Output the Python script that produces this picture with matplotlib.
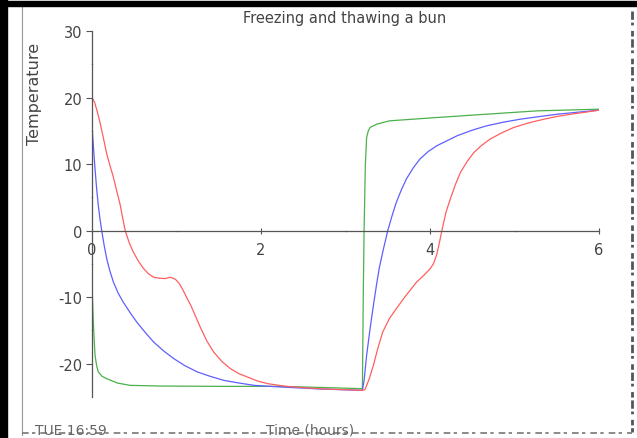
import matplotlib
matplotlib.use("Agg")
import matplotlib.pyplot as plt
from matplotlib.lines import Line2D
from matplotlib.patches import Rectangle

plt.rcParams["font.family"] = ["DejaVu Sans"]
plt.rcParams["axes.unicode_minus"] = False

# curve readings (time in hours, temperature)
red_t = [0.0, 0.03, 0.06, 0.095, 0.13, 0.175, 0.21, 0.254, 0.29, 0.333, 0.36,
         0.393, 0.44, 0.49, 0.55, 0.61, 0.67, 0.73, 0.8, 0.87, 0.92, 0.96, 0.99,
         1.03, 1.08, 1.13, 1.17, 1.23, 1.29, 1.36, 1.44, 1.54, 1.64, 1.74, 1.84,
         1.96, 2.08, 2.3, 2.5, 2.75, 3.0, 3.2, 3.23, 3.28, 3.33, 3.38, 3.44,
         3.52, 3.6, 3.7, 3.84, 3.92, 4.0, 4.04, 4.08, 4.11, 4.14, 4.19, 4.24,
         4.3, 4.36, 4.44, 4.52, 4.61, 4.71, 4.85, 4.99, 5.17, 5.35, 5.5, 5.67,
         5.84, 6.0]
red_T = [20.0, 19.3, 18.0, 16.25, 14.2, 11.5, 9.9, 8.0, 6.1, 3.9, 2.1,
         0.0, -1.8, -3.25, -4.6, -5.7, -6.5, -7.0, -7.15, -7.2, -7.0, -7.15, -7.35,
         -7.9, -9.0, -10.3, -11.25, -13.0, -14.75, -16.6, -18.25, -19.7, -20.75,
         -21.5, -22.0, -22.6, -23.0, -23.4, -23.6, -23.8, -23.9, -24.0, -23.9,
         -22.3, -20.25, -17.8, -15.25, -13.2, -11.75, -10.0, -7.75, -6.8, -5.75,
         -5.0, -3.6, -1.9, 0.0, 2.8, 4.75, 6.9, 8.75, 10.4, 11.75, 12.8, 13.75,
         14.7, 15.5, 16.2, 16.75, 17.15, 17.5, 17.8, 18.1]

blue_t = [0.0, 0.012, 0.024, 0.036, 0.055, 0.075, 0.095, 0.115, 0.145, 0.175,
          0.21, 0.254, 0.31, 0.37, 0.45, 0.53, 0.63, 0.73, 0.85, 0.97, 1.1, 1.25,
          1.4, 1.56, 1.74, 1.92, 2.24, 2.7, 3.2, 3.22, 3.25, 3.29, 3.33, 3.37,
          3.4, 3.45, 3.5, 3.55, 3.6, 3.66, 3.72, 3.8, 3.88, 3.98, 4.08, 4.2,
          4.32, 4.5, 4.67, 4.87, 5.07, 5.3, 5.51, 5.75, 6.0]
blue_T = [15.75, 13.5, 11.3, 9.25, 6.3, 3.75, 1.7, 0.0, -2.3, -4.25,
          -6.0, -7.75, -9.4, -10.75, -12.3, -13.75, -15.3, -16.75, -18.1, -19.25,
          -20.3, -21.25, -21.9, -22.5, -22.9, -23.25, -23.5, -23.8, -24.0, -22.5,
          -18.75, -14.8, -11.25, -7.9, -5.6, -2.7, 0.0, 2.2, 4.2, 6.1, 7.75,
          9.4, 10.75, 11.9, 12.75, 13.5, 14.25, 15.1, 15.75, 16.3, 16.75, 17.15,
          17.5, 17.8, 18.1]

green_t = [0.0, 0.008, 0.016, 0.026, 0.036, 0.055, 0.075, 0.12, 0.175, 0.3,
           0.45, 0.8, 1.5, 2.24, 2.8, 3.2, 3.21, 3.22, 3.235, 3.25, 3.27, 3.29,
           3.37, 3.52, 4.08, 4.67, 5.27, 6.0]
green_T = [-7.75, -11.0, -13.75, -16.5, -18.75, -20.3, -21.25, -21.9, -22.25,
           -22.9, -23.25, -23.35, -23.4, -23.4, -23.6, -23.75, -10.0, 0.0, 10.0,
           14.0, 15.0, 15.5, 16.0, 16.5, 17.0, 17.5, 18.0, 18.25]

x_ticks = [0, 2, 4, 6]
y_ticks = [-20, -10, 0, 10, 20, 30]

W, H = 637, 439
fig = plt.figure(figsize=(W / 100, H / 100), dpi=100)
ax = fig.add_axes([92 / W, (H - 398) / H, 507 / W, 366 / H])

ax.plot(green_t, green_T, color="#4cb04c", lw=0.9)
ax.plot(blue_t, blue_T, color="#5f5fff", lw=0.9)
ax.plot(red_t, red_T, color="#ff5f5f", lw=0.9)

ax.set_xlim(0, 6)
ax.set_ylim(-25, 30)
for s in ["top", "right"]:
    ax.spines[s].set_visible(False)
ax.spines["bottom"].set_position(("data", 0))
for s in ["left", "bottom"]:
    ax.spines[s].set_color("#555555")
    ax.spines[s].set_linewidth(0.9)

ax.set_xticks(x_ticks)
ax.set_xticks([1, 3, 5], minor=True)
ax.set_yticks(y_ticks)
ax.set_yticks([-15, -5, 5, 15, 25], minor=True)
ax.tick_params(axis="both", which="major", colors="#555555", labelcolor="#444444",
               labelsize=10.5, length=4, width=0.8)
ax.tick_params(axis="both", which="minor", colors="#aaaaaa", length=2, width=0.6,
               direction="inout")
ax.tick_params(axis="x", which="major", direction="inout", pad=6)
ax.tick_params(axis="y", which="major", pad=3)

fig.text(345 / W, 1 - 18 / H, "Freezing and thawing a bun", ha="center",
         va="center", fontsize=10.5, color="#444444")
fig.text(35 / W, 1 - 94 / H, "Temperature", rotation=90, ha="center",
         va="center", fontsize=11.5, color="#444444")
fig.text(310 / W, 1 - 431 / H, "Time (hours)", ha="center", va="center",
         fontsize=10, color="#666666")
fig.text(71 / W, 1 - 431 / H, "TUE 16:59", ha="center", va="center",
         fontsize=10, color="#666666")

# scanned page edges
fig.patches.append(Rectangle((0, 0), 7 / W, 1, transform=fig.transFigure,
                             color="black", zorder=5))
fig.patches.append(Rectangle((0, 1 - 6.5 / H), 1, 5 / H, transform=fig.transFigure,
                             color="black", zorder=5))
fig.lines.append(Line2D([22 / W, 22 / W], [1 - 8 / H, 1 - 436 / H],
                        transform=fig.transFigure, color="#999999", lw=0.8))
fig.lines.append(Line2D([632 / W, 632 / W], [1 - 12 / H, 1 - 433 / H],
                        transform=fig.transFigure, color="#555555", lw=2.0,
                        ls=(0, (3, 1, 1, 2, 2, 1))))
fig.lines.append(Line2D([22 / W, 632 / W], [1 - 434 / H, 1 - 434 / H],
                        transform=fig.transFigure, color="#777777", lw=1.2,
                        ls=(0, (4, 2, 2, 3))))

fig.savefig("out.png", dpi=100)
